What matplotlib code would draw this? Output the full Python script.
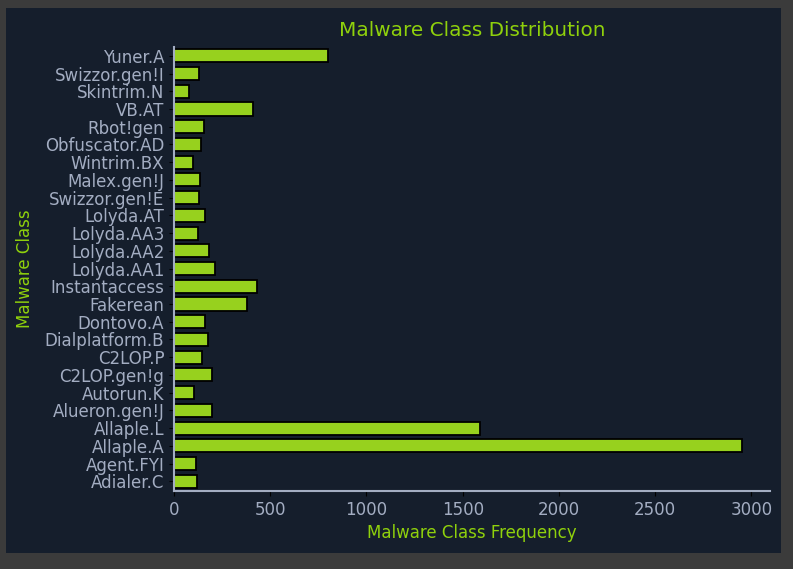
import numpy as np
import matplotlib as mpl
mpl.use("Agg")
import matplotlib.pyplot as plt
from matplotlib.patches import Rectangle

classes = ["Adialer.C", "Agent.FYI", "Allaple.A", "Allaple.L", "Alueron.gen!J",
           "Autorun.K", "C2LOP.gen!g", "C2LOP.P", "Dialplatform.B", "Dontovo.A",
           "Fakerean", "Instantaccess", "Lolyda.AA1", "Lolyda.AA2", "Lolyda.AA3",
           "Lolyda.AT", "Swizzor.gen!E", "Malex.gen!J", "Wintrim.BX", "Obfuscator.AD",
           "Rbot!gen", "VB.AT", "Skintrim.N", "Swizzor.gen!I", "Yuner.A"]
counts = [122, 116, 2949, 1591, 198,
          106, 200, 146, 177, 162,
          381, 431, 213, 184, 123,
          159, 128, 136, 97, 142,
          158, 408, 80, 132, 800]

bg = "#151e2c"
border = "#3b3b3b"
green = "#97d11e"
label_green = "#8fd10c"
tick_grey = "#a3adc2"

fig = plt.figure(figsize=(7.93, 5.69), dpi=100, facecolor=border)
fig.patches.append(Rectangle((6/793, 16/569), 775/793, 545/569,
                             transform=fig.transFigure, facecolor=bg,
                             edgecolor="none", zorder=-10))
ax = fig.add_axes([174/793, 78/569, 596/793, 444/569])
ax.set_facecolor(bg)

y = np.arange(len(classes))
ax.barh(y, counts, height=0.74, color=green, edgecolor="black", linewidth=1.3)
ax.set_yticks(y)
ax.set_yticklabels(classes)
ax.set_ylim(-0.55, len(classes) - 0.5)
ax.set_xlim(0, max(counts) * 1.05)

ax.set_title("Malware Class Distribution", color=label_green, fontsize=14.4, pad=8)
ax.set_xlabel("Malware Class Frequency", color=label_green, fontsize=12, labelpad=4)
ax.set_ylabel("Malware Class", color=label_green, fontsize=12, labelpad=8)

for s in ["top", "right"]:
    ax.spines[s].set_visible(False)
for s in ["left", "bottom"]:
    ax.spines[s].set_color(tick_grey)
    ax.spines[s].set_linewidth(1.5)
ax.tick_params(colors="black", labelcolor=tick_grey, labelsize=12)

fig.savefig("out.png", dpi=100, facecolor=border)
